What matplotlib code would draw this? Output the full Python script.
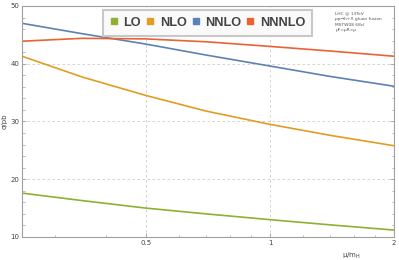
import numpy as np
import matplotlib.pyplot as plt
from matplotlib.ticker import FixedLocator, NullFormatter, MultipleLocator

# scale ratio mu/m_H and cross sections (pb)
mu = [0.25, 0.35, 0.5, 0.7, 1.0, 1.4, 2.0]
lo = [17.6, 16.3, 15.0, 14.0, 13.0, 12.1, 11.2]
nlo = [41.3, 37.7, 34.5, 31.8, 29.5, 27.6, 25.8]
nnlo = [47.0, 45.2, 43.4, 41.5, 39.6, 37.8, 36.1]
nnnlo = [43.9, 44.4, 44.3, 43.8, 43.0, 42.2, 41.3]

labels = ["LO", "NLO", "NNLO", "NNNLO"]
colors = ["#8fb032", "#e19c24", "#5e81b5", "#eb6235"]
x_ticks = [0.5, 1, 2]
x_ticklabels = ["0.5", "1", "2"]

fig = plt.figure(figsize=(3.99, 2.60), dpi=100)
ax = fig.add_axes([0.0551, 0.0885, 0.9324, 0.8885])

for ys, c, lab in zip([lo, nlo, nnlo, nnnlo], colors, labels):
    ax.plot(mu, ys, color=c, lw=1.2, label=lab)

ax.set_xscale("log")
ax.set_xlim(0.25, 2)
ax.set_ylim(10, 50)

frame_col = "#a0a0a0"
for s in ax.spines.values():
    s.set_color(frame_col)
    s.set_linewidth(0.8)

ax.xaxis.set_major_locator(FixedLocator(x_ticks))
ax.set_xticklabels(x_ticklabels)
ax.xaxis.set_minor_locator(FixedLocator([0.3, 0.4, 0.6, 0.7, 0.8, 0.9, 1.2, 1.4, 1.6, 1.8]))
ax.xaxis.set_minor_formatter(NullFormatter())
ax.yaxis.set_major_locator(MultipleLocator(10))
ax.yaxis.set_minor_locator(MultipleLocator(2))

ax.tick_params(which="both", direction="in", color=frame_col, labelsize=5,
               labelcolor="#444444", right=True, pad=2)
ax.tick_params(which="major", length=3, width=0.6)
ax.tick_params(which="minor", length=1.8, width=0.5)

ax.grid(True, which="major", color="#cccccc", ls=(0, (3, 3)), lw=0.6)

ax.set_ylabel("σ/pb", fontsize=5, color="#444444", labelpad=2)
ax.text(0.86, -0.06, "μ/m$_{\\mathrm{H}}$", transform=ax.transAxes,
        fontsize=5, color="#444444", ha="left", va="top")

# square colour swatches as legend handles
handles = [plt.Line2D([], [], marker="s", ls="", color=c, markersize=5) for c in colors]
leg = ax.legend(handles, labels, loc="upper left", bbox_to_anchor=(0.218, 0.983), ncol=4,
                borderaxespad=0, handlelength=0.6, handletextpad=0.45, columnspacing=0.4,
                fancybox=False,
                prop={"family": "Liberation Sans", "weight": "bold", "size": 9.2},
                labelcolor="#444444", framealpha=1, edgecolor="#c8c8c8",
                borderpad=0.55)
leg.get_frame().set_linewidth(1.5)
leg.get_frame().set_facecolor("#fafafa")

ax.text(0.842, 0.975,
        "LHC @ 13TeV\npp→h+X gluon fusion\nMSTW08 68cl\nμF=μR=μ",
        transform=ax.transAxes, fontsize=3.2, color="#555555",
        ha="left", va="top", linespacing=1.5)

fig.savefig("out.png", dpi=100)
